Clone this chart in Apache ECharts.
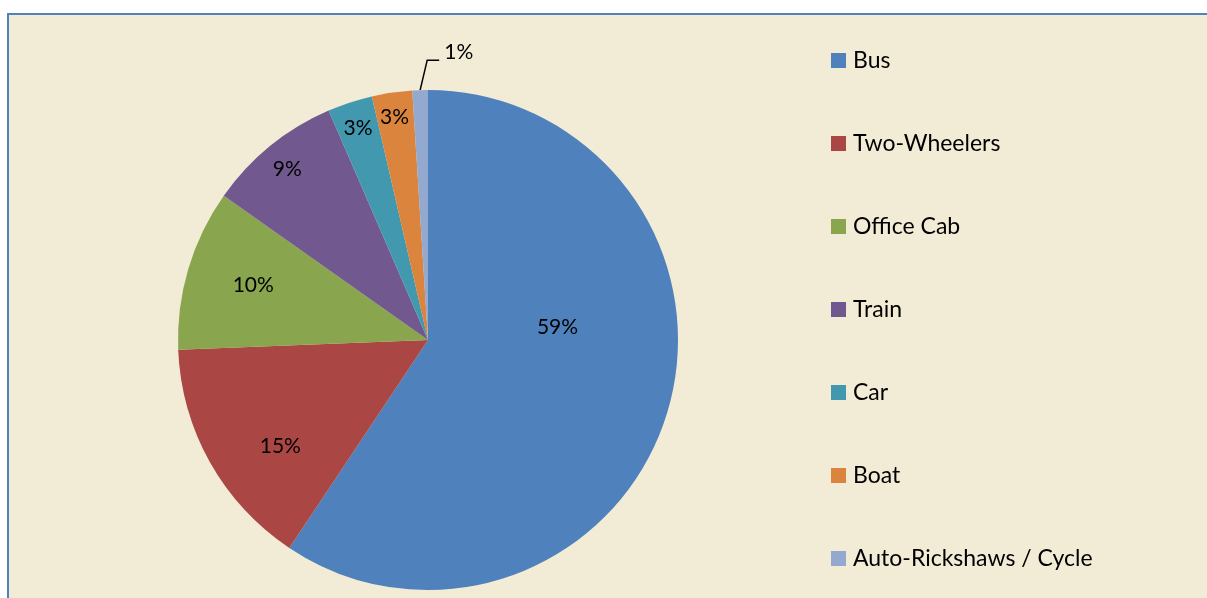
<!DOCTYPE html>
<html>
<head>
<meta charset="utf-8">
<script src="https://cdn.jsdelivr.net/npm/echarts@6/dist/echarts.min.js"></script>
<style>
    html, body { margin: 0; padding: 0; background: #fff; }
    #frame {
        position: absolute; left: 7px; top: 13px;
        width: 1230px; height: 620px;
        border: 2px solid #4F81BD;
        background: #F2EBD6;
    }
    #chart { position: absolute; left: 0; top: 0; width: 1207px; height: 598px; }
</style>
</head>
<body>
<div id="frame"></div>
<div id="chart"></div>
<script>
// 出行方式占比
var modes = ['Bus', 'Two-Wheelers', 'Office Cab', 'Train', 'Car', 'Boat', 'Auto-Rickshaws / Cycle'];
var shares = [59.3, 15.0, 10.4, 8.7, 2.9, 2.6, 1.0];
var colors = ['#4F81BD', '#AA4643', '#89A54E', '#71588F', '#4198AF', '#DB843D', '#93A9CF'];

// 标签微调 (Excel 的标签位置不在半径中点)
var labelShift = {
    'Bus': [7, -50],
    'Two-Wheelers': [-36, 44],
    'Office Cab': [-52, -18],
    'Train': [-60, -71],
    'Car': [-30, -90],
    'Boat': [-15, -96]
};

var font = 'Lato, "Open Sans", sans-serif';

function buildData() {
    var out = [];
    for (var i = 0; i < modes.length; i++) {
        var item = { name: modes[i], value: shares[i], itemStyle: { color: colors[i] } };
        if (labelShift[modes[i]]) {
            item.label = { offset: labelShift[modes[i]] };
        } else {
            // 最小的一块放在外面, 带引导线
            item.label = { position: 'outside' };
            item.labelLine = { show: true, length: 30, length2: 12, lineStyle: { color: '#000', width: 1.5 } };
        }
        out.push(item);
    }
    return out;
}

var myChart = echarts.init(document.getElementById('chart'));
var option = {
    backgroundColor: 'transparent',
    animation: false,
    legend: {
        orient: 'vertical',
        left: 831,
        top: 49,
        padding: 0,
        icon: 'rect',
        itemWidth: 15,
        itemHeight: 15,
        itemGap: 60,
        data: modes,
        textStyle: { fontFamily: font, fontSize: 23, lineHeight: 23, color: '#000', padding: [0, 0, 0, 2] }
    },
    series: [
        {
            type: 'pie',
            center: [428, 340],
            radius: 250,
            startAngle: 90,
            clockwise: true,
            percentPrecision: 0,
            avoidLabelOverlap: false,
            itemStyle: { borderWidth: 0 },
            label: {
                show: true,
                position: 'inside',
                formatter: '{d}%',
                fontFamily: font,
                fontSize: 21,
                color: '#000'
            },
            labelLine: { show: false },
            // 把 1% 的引导线翻到右边
            labelLayout: function (p) {
                if (p.dataIndex !== modes.length - 1 || !p.labelLinePoints) return {};
                var pts = p.labelLinePoints;
                var p1 = pts[1], p2 = pts[2];
                var bend = [p1[0] + 8, p1[1]];
                var end = [bend[0] + Math.abs(p1[0] - p2[0]), p2[1]];
                return {
                    x: end[0] + 5,
                    y: end[1] - 8,
                    align: 'left',
                    verticalAlign: 'middle',
                    labelLinePoints: [pts[0], bend, end]
                };
            },
            data: buildData()
        }
    ]
};
myChart.setOption(option);
</script>
</body>
</html>
